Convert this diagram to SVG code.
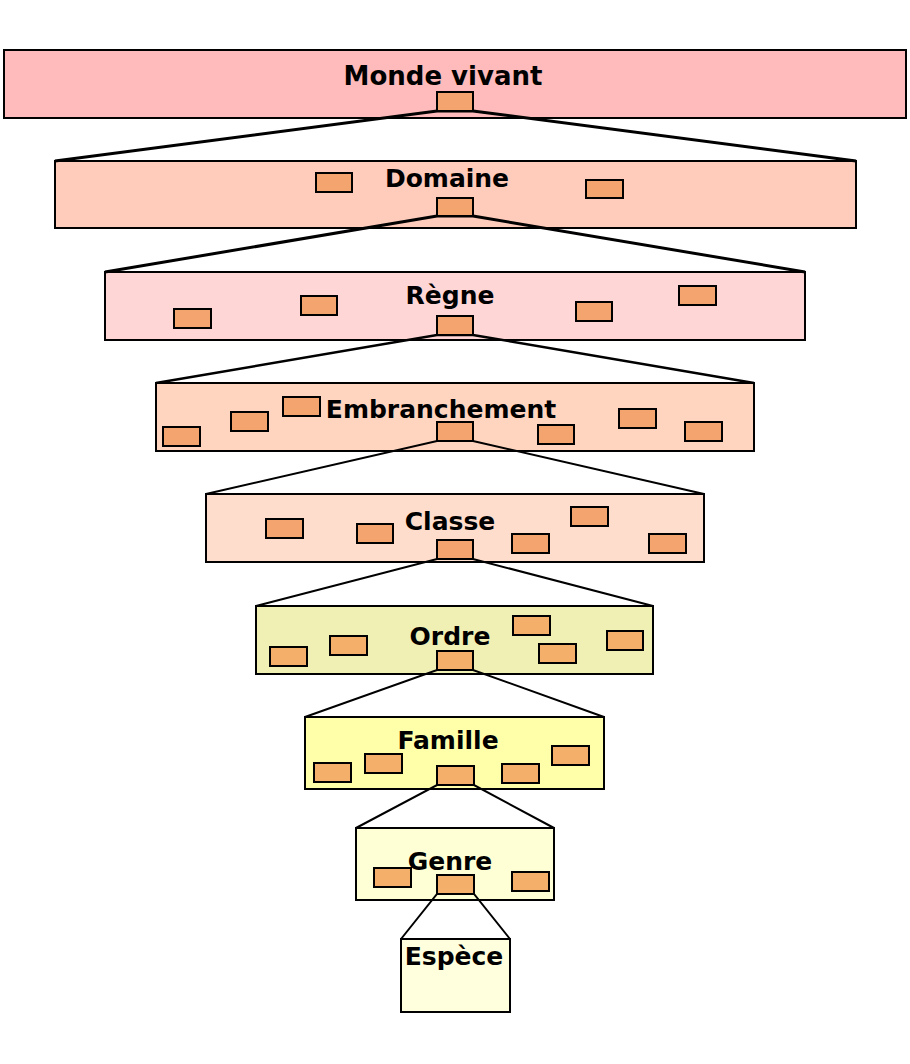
<svg xmlns="http://www.w3.org/2000/svg" width="910" height="1064" viewBox="0 0 910 1064">
<style>
.box{stroke:#000;stroke-width:2}
.s{fill:#f4a46e;stroke:#000;stroke-width:2}
.s2{fill:#f4b06a;stroke:#000;stroke-width:2}
.lbl{font-family:"DejaVu Sans",sans-serif;font-weight:bold;font-size:25px;text-anchor:middle;fill:#000}
.c{fill:none;stroke:#000;stroke-linejoin:miter}
</style>
<rect width="910" height="1064" fill="#fff"/>
<g id="monde"><rect class="box" x="4" y="50" width="902" height="68" fill="#ffbbbb"/><text class="lbl" x="443" y="85" style="font-size:26px">Monde vivant</text></g>
<g id="domaine"><rect class="box" x="55" y="161" width="801" height="67" fill="#ffcbbb"/><text class="lbl" x="447" y="187">Domaine</text>
<rect class="s" x="316" y="173" width="36" height="19"/><rect class="s" x="586" y="180" width="37" height="18"/></g>
<g id="regne"><rect class="box" x="105" y="272" width="700" height="68" fill="#ffd6d6"/><text class="lbl" x="450" y="304">Règne</text>
<rect class="s" x="174" y="309" width="37" height="19"/><rect class="s" x="301" y="296" width="36" height="19"/><rect class="s" x="576" y="302" width="36" height="19"/><rect class="s" x="679" y="286" width="37" height="19"/></g>
<g id="embranchement"><rect class="box" x="156" y="383" width="598" height="68" fill="#ffd5c0"/><text class="lbl" x="441" y="418">Embranchement</text>
<rect class="s" x="163" y="427" width="37" height="19"/><rect class="s" x="231" y="412" width="37" height="19"/><rect class="s" x="283" y="397" width="37" height="19"/><rect class="s" x="538" y="425" width="36" height="19"/><rect class="s" x="619" y="409" width="37" height="19"/><rect class="s" x="685" y="422" width="37" height="19"/></g>
<g id="classe"><rect class="box" x="206" y="494" width="498" height="68" fill="#ffddcc"/><text class="lbl" x="450" y="530">Classe</text>
<rect class="s" x="266" y="519" width="37" height="19"/><rect class="s" x="357" y="524" width="36" height="19"/><rect class="s" x="512" y="534" width="37" height="19"/><rect class="s" x="571" y="507" width="37" height="19"/><rect class="s" x="649" y="534" width="37" height="19"/></g>
<g id="ordre"><rect class="box" x="256" y="606" width="397" height="68" fill="#f0efb4"/><text class="lbl" x="450" y="645">Ordre</text>
<rect class="s2" x="270" y="647" width="37" height="19"/><rect class="s2" x="330" y="636" width="37" height="19"/><rect class="s2" x="513" y="616" width="37" height="19"/><rect class="s2" x="539" y="644" width="37" height="19"/><rect class="s2" x="607" y="631" width="36" height="19"/></g>
<g id="famille"><rect class="box" x="305" y="717" width="299" height="72" fill="#ffffaa"/><text class="lbl" x="448" y="749">Famille</text>
<rect class="s2" x="314" y="763" width="37" height="19"/><rect class="s2" x="365" y="754" width="37" height="19"/><rect class="s2" x="502" y="764" width="37" height="19"/><rect class="s2" x="552" y="746" width="37" height="19"/></g>
<g id="genre"><rect class="box" x="356" y="828" width="198" height="72" fill="#ffffd5"/><text class="lbl" x="450" y="870">Genre</text>
<rect class="s2" x="374" y="868" width="37" height="19"/><rect class="s2" x="512" y="872" width="37" height="19"/></g>
<g id="espece"><rect class="box" x="401" y="939" width="109" height="73" fill="#ffffdd"/><text class="lbl" x="454" y="965">Espèce</text></g>
<g id="connectors">
<path class="c" stroke-width="3" d="M55,161 L437,111 L473,111 L856,161"/>
<path class="c" stroke-width="3" d="M105,272 L437,216 L473,216 L805,272"/>
<path class="c" stroke-width="2.5" d="M156,383 L437,335 L473,335 L754,383"/>
<path class="c" stroke-width="2" d="M206,494 L437,441 L473,441 L704,494"/>
<path class="c" stroke-width="2" d="M256,606 L437,559 L473,559 L653,606"/>
<path class="c" stroke-width="2" d="M305,717 L437,670 L473,670 L604,717"/>
<path class="c" stroke-width="2" d="M356,828 L437,785 L474,785 L554,828"/>
<path class="c" stroke-width="2" d="M401,939 L437,894 L474,894 L510,939"/>
</g>
<g id="centers">
<rect class="s" x="437" y="92" width="36" height="19"/>
<rect class="s" x="437" y="198" width="36" height="18"/>
<rect class="s" x="437" y="316" width="36" height="19"/>
<rect class="s" x="437" y="422" width="36" height="19"/>
<rect class="s" x="437" y="540" width="36" height="19"/>
<rect class="s2" x="437" y="651" width="36" height="19"/>
<rect class="s2" x="437" y="766" width="37" height="19"/>
<rect class="s2" x="437" y="875" width="37" height="19"/>
</g>
</svg>
